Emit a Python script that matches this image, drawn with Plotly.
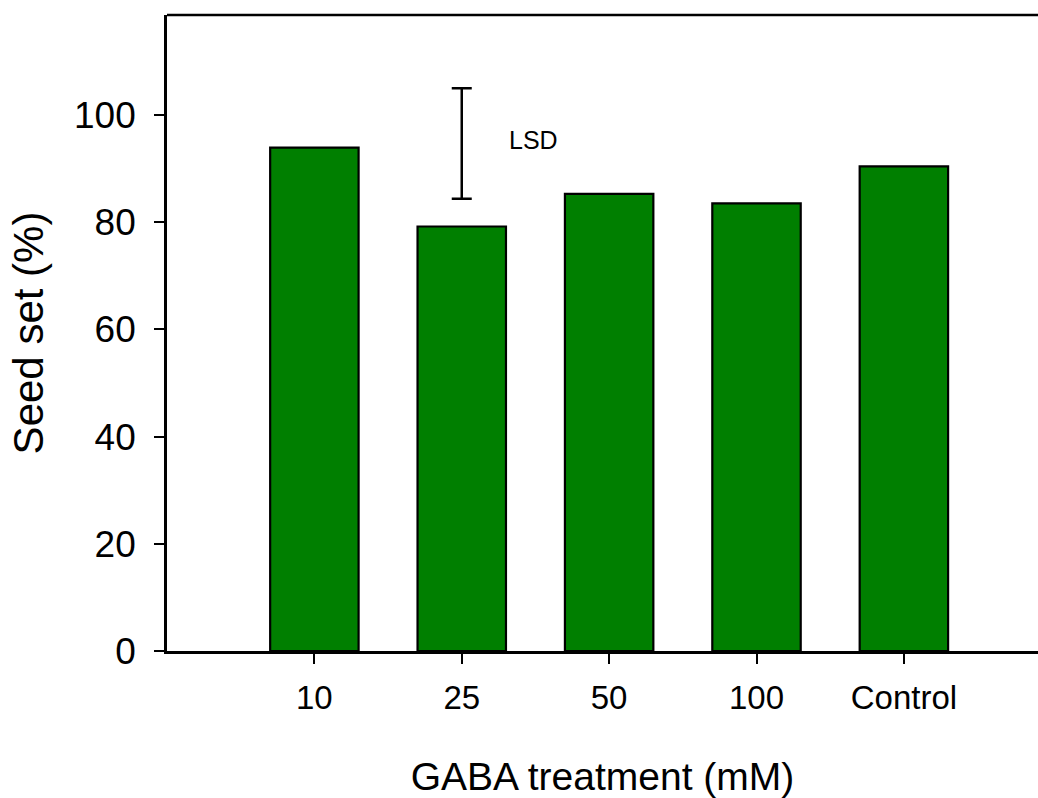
import plotly.graph_objects as go

categories = ["10", "25", "50", "100", "Control"]
seed_set = [93.9, 79.2, 85.3, 83.5, 90.4]
lsd_category = "25"
lsd_center = 94.7
lsd_half = 10.3
lsd_label = "LSD"

FONT = "Liberation Sans, Arial, sans-serif"

fig = go.Figure()
fig.add_trace(go.Bar(
    x=categories, y=seed_set, width=0.6,
    marker=dict(color="#007F00", line=dict(color="black", width=2.2)),
    showlegend=False,
))
fig.add_trace(go.Scatter(
    x=[lsd_category], y=[lsd_center], mode="markers",
    marker=dict(size=1, color="rgba(0,0,0,0)"),
    error_y=dict(type="data", array=[lsd_half], visible=True,
                 color="black", thickness=2.5, width=10),
    showlegend=False,
))
fig.add_annotation(x=1.486, y=95.4, xref="x", yref="y", text=lsd_label,
                   showarrow=False, font=dict(family=FONT, size=25, color="black"))

fig.add_shape(type="line", xref="paper", yref="paper", x0=0, x1=1, y0=1, y1=1,
              line=dict(color="black", width=2.7))

fig.update_layout(
    width=1038, height=798,
    margin=dict(l=167, r=0, t=15, b=147),
    plot_bgcolor="white", paper_bgcolor="white",
    font=dict(family=FONT, color="black"),
    bargap=0.4,
)
fig.update_xaxes(
    type="category", categoryorder="array", categoryarray=categories,
    range=[-1, 4.91],
    showline=True, linecolor="black", linewidth=2.7,
    ticks="outside", ticklen=10, tickwidth=2, tickcolor="black",
    tickfont=dict(family=FONT, size=33),
    ticklabelstandoff=6,
    title=dict(text="GABA treatment (mM)", font=dict(family=FONT, size=39), standoff=52),
    showgrid=False, zeroline=False,
)
fig.update_yaxes(
    range=[0, 118.66],
    tickvals=[0, 20, 40, 60, 80, 100],
    showline=True, linecolor="black", linewidth=2.7,
    ticks="outside", ticklen=10, tickwidth=2, tickcolor="black",
    tickfont=dict(family=FONT, size=37),
    ticklabelstandoff=11,
    title=dict(text="Seed set (%)", font=dict(family=FONT, size=42), standoff=18),
    showgrid=False, zeroline=False,
)

fig.write_html(
    "out.html",
    config={"displayModeBar": False},
    post_script="document.body.style.margin='0';document.body.style.overflow='hidden';",
)
